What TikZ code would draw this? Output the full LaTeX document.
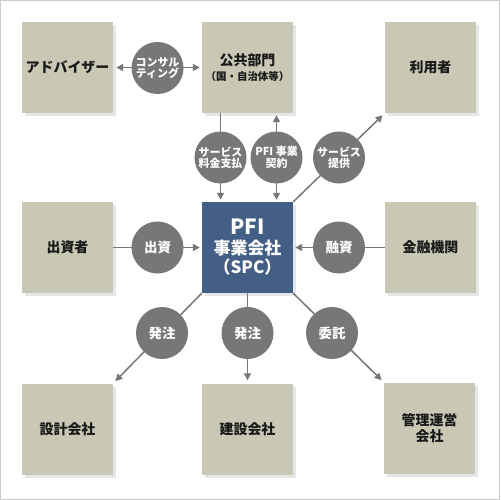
\documentclass[tikz,border=0pt]{standalone}
\usepackage{fontspec}
\setmainfont{Noto Sans CJK JP}
\usetikzlibrary{arrows.meta}
\definecolor{boxc}{HTML}{C9C8B5}
\definecolor{spcc}{HTML}{445F86}
\definecolor{circc}{HTML}{777777}
\definecolor{linec}{HTML}{777777}
\definecolor{shadc}{HTML}{E6E6E6}
\definecolor{framec}{HTML}{CCCCCC}
\begin{document}
\begin{tikzpicture}[x=1bp,y=-1bp,
  box/.style={draw=none,fill=boxc,minimum width=91bp,minimum height=91bp,inner sep=0pt,
    align=center,font=\bfseries\fontsize{14}{16.5}\selectfont,text=black!90},
  spcbox/.style={box,fill=spcc,text=white,font=\bfseries\fontsize{17}{19.5}\selectfont},
  shad/.style={fill=shadc,draw=none},
  bub/.style={circle,fill=circc,minimum size=52bp,inner sep=0pt,align=center,text=white,
    font=\bfseries\fontsize{13.5}{15}\selectfont},
  bubs/.style={bub,font=\bfseries\fontsize{11}{11.5}\selectfont},
  conn/.style={draw=linec,line width=1.5bp},
  tip/.style={-{Triangle[length=7bp,width=7bp]}},
  tips/.style={{Triangle[length=7bp,width=7bp]}-{Triangle[length=7bp,width=7bp]}}
]
\useasboundingbox (0,0) rectangle (500,500);
\draw[framec,line width=1bp] (0.5,0.5) rectangle (499.5,499.5);
% shadows
\foreach \x/\y in {67.5/67.5,247.5/67.5,430.5/67.5,67.5/247.5,247.5/247.5,430.5/247.5,67.5/429,247.5/429,429.5/428}
  \fill[shad] (\x-45.5+3,\y-45.5+3) rectangle (\x+45.5+3,\y+45.5+3);
% boxes
\node[box] (adv) at (67.5,67.5) {アドバイザー};
\node[box] (pub) at (247.5,67.5) {公共部門\\[-1bp]{\fontsize{10.5}{12}\selectfont （国・自治体等）}};
\node[box] (usr) at (430.5,67.5) {利用者};
\node[box] (inv) at (67.5,247.5) {出資者};
\node[spcbox] (spc) at (247.5,247.5) {{\fontsize{21}{21}\selectfont PFI}\\事業会社\\（SPC）};
\node[box] (bank) at (430.5,247.5) {金融機関};
\node[box] (des) at (67.5,429) {設計会社};
\node[box] (con) at (247.5,429) {建設会社};
\node[box] (mgt) at (429.5,428) {管理運営\\会社};
% connectors
\draw[conn,tips,shorten <=3bp,shorten >=2bp] (adv.east) -- (pub.west);
\draw[conn,tip,shorten >=2bp] ([xshift=-27bp]pub.south) -- ([xshift=-27bp]spc.north);
\draw[conn,tips,shorten <=2bp,shorten >=2bp] ([xshift=29bp]spc.north) -- ([xshift=29bp]pub.south);
\draw[conn,tip,shorten >=3bp] (spc.north east) -- (usr.south west);
\draw[conn,tip,shorten >=2bp] (inv.east) -- (spc.west);
\draw[conn,tip,shorten >=2bp] (bank.west) -- (spc.east);
\draw[conn,tip,shorten >=3bp] (spc.south west) -- (des.north east);
\draw[conn,tip,shorten >=3bp] (spc.south) -- (con.north);
\draw[conn,tip,shorten >=3bp] (spc.south east) -- (mgt.north west);
% bubbles
\node[bubs] (b1) at (157.5,68) {コンサル\\ティング};
\node[bubs] (b2) at (220.5,157.5) {サービス\\料金支払};
\node[bubs] (b3) at (276.5,157.5) {PFI 事業\\契約};
\node[bubs] (b4) at (339,157.5) {サービス\\提供};
\node[bub] (b5) at (157.5,247.5) {出資};
\node[bub] (b6) at (339,247.5) {融資};
\node[bub] (b7) at (162,333) {発注};
\node[bub] (b8) at (247.5,333) {発注};
\node[bub] (b9) at (332,333) {委託};
\end{tikzpicture}
\end{document}
